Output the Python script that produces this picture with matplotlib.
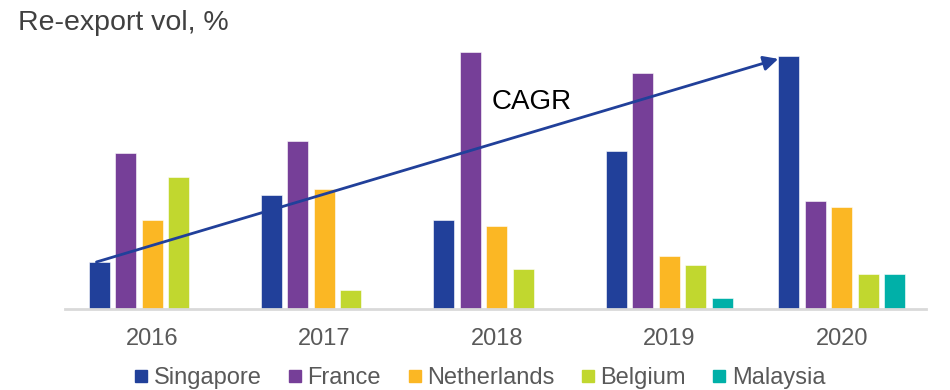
import numpy as np
import matplotlib
matplotlib.use("Agg")
import matplotlib.pyplot as plt
from matplotlib.lines import Line2D

plt.rcParams['font.family'] = ['Liberation Sans', 'DejaVu Sans']

years = ['2016', '2017', '2018', '2019', '2020']
countries = ['Singapore', 'France', 'Netherlands', 'Belgium', 'Malaysia']
singapore = [47, 114, 89, 158, 253]
france = [156, 168, 257, 236, 108]
netherlands = [89, 120, 83, 53, 102]
belgium = [132, 19, 40, 44, 35]
malaysia = [0, 0, 0, 11, 35]
colours = ['#21409A', '#763F98', '#FBB724', '#C1D72F', '#00B0A8']

series = [singapore, france, netherlands, belgium, malaysia]

fig = plt.figure(figsize=(9.5, 3.9), dpi=100)
ax = fig.add_axes([0.068, 0.2077, 0.907, 0.667])

x = np.arange(len(years))
step = 0.1536
bar_w = 0.122
for i, (vals, col) in enumerate(zip(series, colours)):
    ax.bar(x + (i - 2) * step, vals, width=bar_w, color=col,
           edgecolor='white', linewidth=0.4, zorder=2)

# CAGR arrow from first to last Singapore bar
x_sing = x - 2 * step
ax.annotate('', xy=(x_sing[4] - bar_w / 2, singapore[4] - 3),
            xytext=(x_sing[0] - 0.015, singapore[0]),
            arrowprops=dict(arrowstyle='-|>', color='#21409A', lw=2,
                            mutation_scale=22, shrinkA=0, shrinkB=0),
            zorder=3)
ax.text(2.2, 207, 'CAGR', fontsize=20, color='black', ha='center', va='center')

ax.set_xlim(-0.507, 4.49)
ax.set_ylim(0, 260)
ax.set_xticks(x)
ax.set_xticklabels(years, fontsize=17, color='#595959')
ax.tick_params(axis='x', length=0, pad=14)
ax.set_yticks([])
for s in ['top', 'right', 'left']:
    ax.spines[s].set_visible(False)
ax.spines['bottom'].set_color('#D9D9D9')
ax.spines['bottom'].set_linewidth(2)

fig.text(0.019, 0.94, 'Re-export vol, %', fontsize=20.5, color='#404040',
         ha='left', va='center')

handles = [Line2D([], [], marker='s', linestyle='', markersize=8, color=c)
           for c in colours]
fig.legend(handles, countries, loc='center', bbox_to_anchor=(0.505, 0.03),
           ncol=5, frameon=False, fontsize=17, labelcolor='#595959',
           handlelength=0.6, handletextpad=0.23, columnspacing=1.12,
           borderpad=0)

fig.savefig('out.png', dpi=100)
